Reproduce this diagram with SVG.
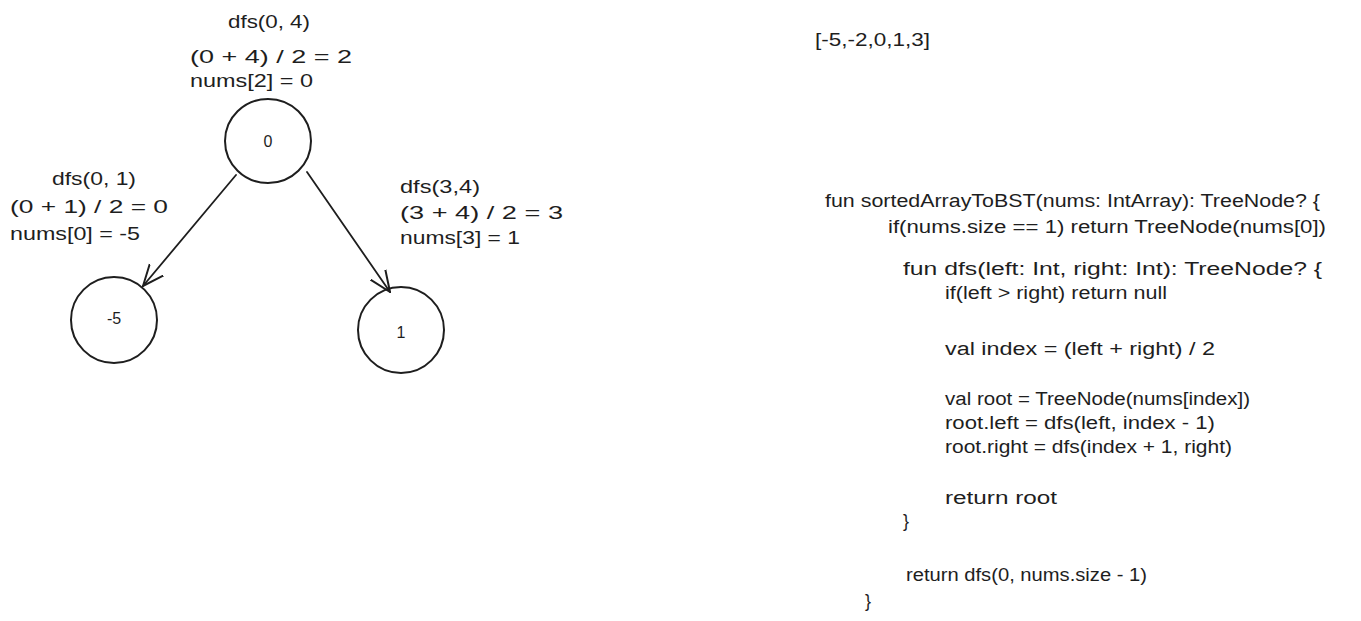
<svg xmlns="http://www.w3.org/2000/svg" width="1361" height="621" viewBox="0 0 1361 621">
<style>
text{font-family:"Liberation Sans","DejaVu Sans",sans-serif;font-size:18px;fill:#1e1e1e}
.lbl{font-size:16px;text-anchor:middle;dominant-baseline:central}
.node{fill:none;stroke:#1e1e1e;stroke-width:2}
.edge{fill:none;stroke:#1e1e1e;stroke-width:1.8;stroke-linecap:round}
</style>
<defs>
<marker id="arr" viewBox="0 0 20 20" refX="19" refY="10" markerWidth="22" markerHeight="22" markerUnits="userSpaceOnUse" orient="auto">
<path d="M0,2 L19,10 L0,18" fill="none" stroke="#1e1e1e" stroke-width="1.8" stroke-linecap="round"/>
</marker>
</defs>
<rect width="1361" height="621" fill="#ffffff"/>
<g id="connectors">
<path class="edge" d="M236,175 L143,286" marker-end="url(#arr)"/>
<path class="edge" d="M307,172 L390,292" marker-end="url(#arr)"/>
</g>
<g id="node-root">
<ellipse class="node" cx="268" cy="141" rx="43" ry="42"/>
<text class="lbl" x="268" y="141">0</text>
</g>
<g id="node-left">
<ellipse class="node" cx="114" cy="320" rx="43" ry="43"/>
<text class="lbl" x="114" y="318">-5</text>
</g>
<g id="node-right">
<ellipse class="node" cx="401" cy="330" rx="43" ry="43"/>
<text class="lbl" x="401" y="332">1</text>
</g>
<g id="annotations">
<text x="228" y="28" textLength="82" lengthAdjust="spacingAndGlyphs">dfs(0, 4)</text>
<text x="190" y="63" textLength="162" lengthAdjust="spacingAndGlyphs">(0 + 4) / 2 = 2</text>
<text x="190" y="87" textLength="123" lengthAdjust="spacingAndGlyphs">nums[2] = 0</text>
<text x="52" y="185" textLength="84" lengthAdjust="spacingAndGlyphs">dfs(0, 1)</text>
<text x="10" y="213" textLength="158" lengthAdjust="spacingAndGlyphs">(0 + 1) / 2 = 0</text>
<text x="10" y="240" textLength="130" lengthAdjust="spacingAndGlyphs">nums[0] = -5</text>
<text x="400" y="193" textLength="80" lengthAdjust="spacingAndGlyphs">dfs(3,4)</text>
<text x="400" y="219" textLength="163" lengthAdjust="spacingAndGlyphs">(3 + 4) / 2 = 3</text>
<text x="400" y="244" textLength="120" lengthAdjust="spacingAndGlyphs">nums[3] = 1</text>
</g>
<g id="array">
<text x="815" y="46" textLength="115" lengthAdjust="spacingAndGlyphs">[-5,-2,0,1,3]</text>
</g>
<g id="code">
<text x="825" y="207" textLength="495" lengthAdjust="spacingAndGlyphs">fun sortedArrayToBST(nums: IntArray): TreeNode? {</text>
<text x="888" y="233" textLength="438" lengthAdjust="spacingAndGlyphs">if(nums.size == 1) return TreeNode(nums[0])</text>
<text x="903" y="275" textLength="419" lengthAdjust="spacingAndGlyphs">fun dfs(left: Int, right: Int): TreeNode? {</text>
<text x="945" y="299" textLength="222" lengthAdjust="spacingAndGlyphs">if(left &gt; right) return null</text>
<text x="945" y="355" textLength="270" lengthAdjust="spacingAndGlyphs">val index = (left + right) / 2</text>
<text x="945" y="405" textLength="305" lengthAdjust="spacingAndGlyphs">val root = TreeNode(nums[index])</text>
<text x="945" y="429" textLength="270" lengthAdjust="spacingAndGlyphs">root.left = dfs(left, index - 1)</text>
<text x="945" y="453" textLength="287" lengthAdjust="spacingAndGlyphs">root.right = dfs(index + 1, right)</text>
<text x="945" y="504" textLength="112" lengthAdjust="spacingAndGlyphs">return root</text>
<text x="903" y="527">}</text>
<text x="906" y="581" textLength="241" lengthAdjust="spacingAndGlyphs">return dfs(0, nums.size - 1)</text>
<text x="865" y="607">}</text>
</g>
</svg>
